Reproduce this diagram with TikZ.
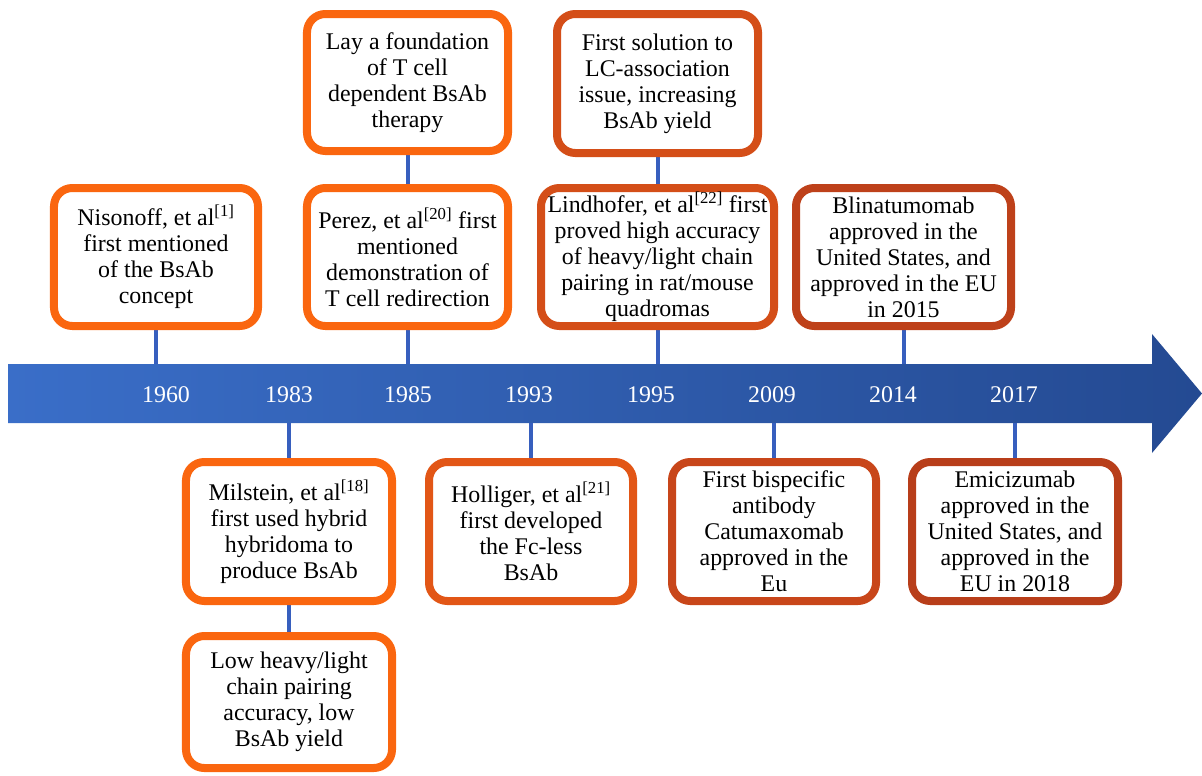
\documentclass[tikz,border=0pt]{standalone}
\usepackage{fontspec}
\setmainfont{LiberationSerif}[Extension=.ttf, UprightFont=*-Regular, BoldFont=*-Bold]
\usetikzlibrary{backgrounds}
\definecolor{oA}{RGB}{250,102,15}
\definecolor{oB}{RGB}{238,92,18}
\definecolor{oC}{RGB}{226,86,22}
\definecolor{oD}{RGB}{212,78,24}
\definecolor{oE}{RGB}{200,70,26}
\definecolor{oF}{RGB}{190,65,26}
\definecolor{oG}{RGB}{184,62,26}
\definecolor{arL}{RGB}{58,110,200}
\definecolor{arR}{RGB}{36,74,146}
\definecolor{conn}{RGB}{55,95,190}
\newcommand{\boxfont}{\fontsize{20.4}{22.2}\selectfont}
\tikzset{
  box/.style={draw, line width=0.24cm, rounded corners=0.55cm, fill=white,
    align=center, inner sep=0pt, font=\boxfont},
  yr/.style={text=white, font=\boxfont},
  link/.style={draw=conn, line width=0.12cm}
}
\begin{document}
\begin{tikzpicture}[x=0.03cm,y=-0.03cm]
\useasboundingbox (0,0) rectangle (1202,775);
% boxes above
\node[box, draw=oA, minimum width=6.12cm, minimum height=4.14cm] (nis) at (156,257)
  {Nisonoff, et al\textsuperscript{[1]}\\first mentioned\\of the BsAb\\concept};
\node[box, draw=oA, minimum width=6.03cm, minimum height=4.14cm] (per) at (407.5,257)
  {Perez, et al\textsuperscript{[20]} first\\mentioned\\demonstration of\\T cell redirection};
\node[box, draw=oA, minimum width=6.03cm, minimum height=4.11cm] (lay) at (407.5,82.5)
  {Lay a foundation\\of T cell\\dependent BsAb\\therapy};
\node[box, draw=oD, minimum width=6.99cm, minimum height=4.14cm] (lin) at (657.5,257)
  {Lindhofer, et al\textsuperscript{[22]} first\\proved high accuracy\\of heavy/light chain\\pairing in rat/mouse\\quadromas};
\node[box, draw=oD, minimum width=6.03cm, minimum height=4.17cm] (sol) at (657.5,83.5)
  {First solution to\\LC-association\\issue, increasing\\BsAb yield};
\node[box, draw=oF, minimum width=6.45cm, minimum height=4.14cm] (bli) at (903.5,257)
  {Blinatumomab\\approved in the\\United States, and\\approved in the EU\\in 2015};
% boxes below
\node[box, draw=oA, minimum width=6.18cm, minimum height=4.17cm] (mil) at (289,531.5)
  {Milstein, et al\textsuperscript{[18]}\\first used hybrid\\hybridoma to\\produce BsAb};
\node[box, draw=oA, minimum width=6.18cm, minimum height=3.96cm] (low) at (289,702)
  {Low heavy/light\\chain pairing\\accuracy, low\\BsAb yield};
\node[box, draw=oC, minimum width=6.12cm, minimum height=4.17cm] (hol) at (531,531.5)
  {Holliger, et al\textsuperscript{[21]}\\first developed\\the Fc-less\\BsAb};
\node[box, draw=oE, minimum width=6.12cm, minimum height=4.17cm] (cat) at (774,531.5)
  {First bispecific\\antibody\\Catumaxomab\\approved in the\\Eu};
\node[box, draw=oG, minimum width=6.18cm, minimum height=4.17cm] (emi) at (1015,531.5)
  {Emicizumab\\approved in the\\United States, and\\approved in the\\EU in 2018};
% timeline arrow and connectors
\coordinate (atop) at (0,364);
\coordinate (abot) at (0,423);
\begin{scope}[on background layer]
\shade[left color=arL, right color=arR]
  (8,364) -- (1152,364) -- (1152,334) -- (1202,393.5) -- (1152,453) -- (1152,423) -- (8,423) -- cycle;
\draw[link] (nis.south) -- (nis.south |- atop);
\draw[link] (per.south) -- (per.south |- atop);
\draw[link] (lay.south) -- (per.north);
\draw[link] (lin.south) -- (lin.south |- atop);
\draw[link] (sol.south) -- (lin.north);
\draw[link] (bli.south) -- (bli.south |- atop);
\draw[link] (mil.north) -- (mil.north |- abot);
\draw[link] (mil.south) -- (low.north);
\draw[link] (hol.north) -- (hol.north |- abot);
\draw[link] (cat.north) -- (cat.north |- abot);
\draw[link] (emi.north) -- (emi.north |- abot);
\end{scope}
% years
\node[yr] (y1960) at (166,395) {1960};
\node[yr] (y1983) at (289,395) {1983};
\node[yr] (y1985) at (408,395) {1985};
\node[yr] (y1993) at (529,395) {1993};
\node[yr] (y1995) at (651,395) {1995};
\node[yr] (y2009) at (772,395) {2009};
\node[yr] (y2014) at (893,395) {2014};
\node[yr] (y2017) at (1014,395) {2017};
\end{tikzpicture}
\end{document}
